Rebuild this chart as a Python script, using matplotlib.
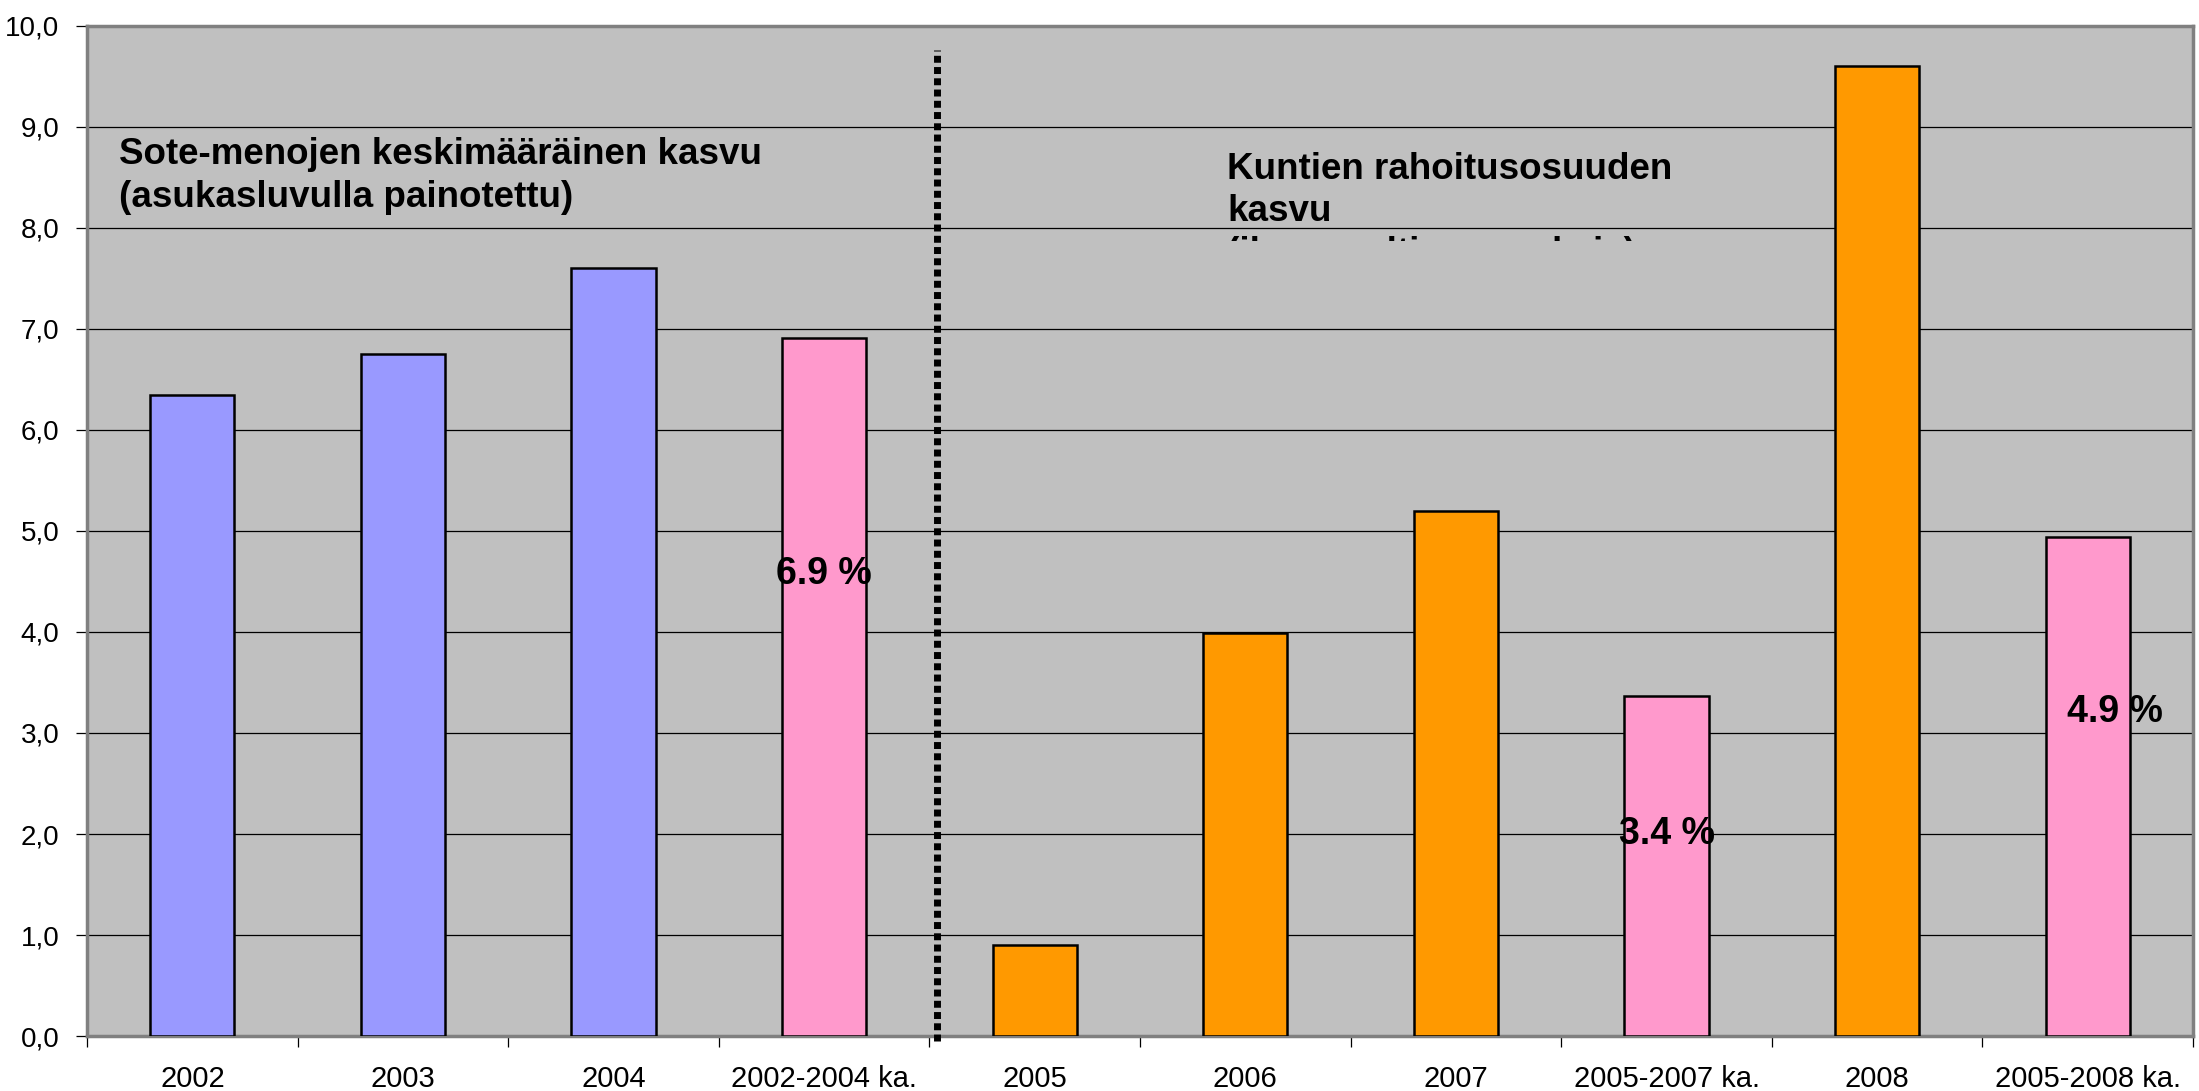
import matplotlib
matplotlib.use("Agg")
import matplotlib.pyplot as plt
from matplotlib.transforms import Bbox, TransformedBbox

plt.rcParams['font.family'] = ['Liberation Sans', 'DejaVu Sans']

categories = ['2002', '2003', '2004', '2002-2004 ka.', '2005', '2006', '2007',
              '2005-2007 ka.', '2008', '2005-2008 ka.']
values = [6.35, 6.75, 7.60, 6.91, 0.90, 3.99, 5.20, 3.37, 9.60, 4.94]
groups = ['sote', 'sote', 'sote', 'avg', 'kunta', 'kunta', 'kunta', 'avg', 'kunta', 'avg']
group_colors = {'sote': '#9999FF', 'kunta': '#FF9900', 'avg': '#FF99CC'}

# labels written inside the average bars: (x, y, text)
avg_labels = [(3.0, 4.57, '6.9 %'), (7.0, 2.0, '3.4 %'), (9.13, 3.21, '4.9 %')]
yticks = [0, 1, 2, 3, 4, 5, 6, 7, 8, 9, 10]

fig = plt.figure(figsize=(21.99, 10.91), dpi=100)
ax = fig.add_axes([0.0396, 0.0504, 0.9577, 0.9258])
ax.set_facecolor('#C0C0C0')

x = list(range(len(categories)))
ax.bar(x, values, width=0.4, color=[group_colors[g] for g in groups],
       edgecolor='black', linewidth=1.8, zorder=3)

ax.set_xlim(-0.5, len(categories) - 0.5)
ax.set_ylim(0, 10)
ax.set_yticks(yticks)
ax.set_yticklabels([('%.1f' % v).replace('.', ',') for v in yticks], fontsize=20)
ax.yaxis.grid(True, color='black', linewidth=0.9, zorder=1)
ax.set_axisbelow(True)

ax.set_xticks(x)
ax.set_xticklabels(categories, fontsize=21)
ax.set_xticks([i - 0.5 for i in range(len(categories) + 1)], minor=True)
ax.tick_params(axis='x', which='major', length=0, pad=21)
ax.tick_params(axis='x', which='minor', length=8, width=0.9, color='black')
ax.tick_params(axis='y', length=8, width=0.9, color='black', pad=12)

for s in ax.spines.values():
    s.set_color('#808080')
    s.set_linewidth(2.5)

# dotted separator between the two periods
ax.plot([3.536, 3.536], [-0.05, 9.76], color='black', linewidth=5,
        linestyle=(0, (1, 0.62)), clip_on=False, zorder=4)

for lx, ly, txt in avg_labels:
    ax.text(lx, ly, txt, ha='center', va='center', fontsize=27,
            fontweight='bold', zorder=5)

fs = 26.5
ax.text(-0.348, 8.635, 'Sote-menojen keskimääräinen kasvu', fontsize=fs,
        fontweight='bold', va='baseline', zorder=5)
ax.text(-0.348, 8.21, '(asukasluvulla painotettu)', fontsize=fs,
        fontweight='bold', va='baseline', zorder=5)

ax.text(4.913, 8.487, 'Kuntien rahoitusosuuden', fontsize=fs,
        fontweight='bold', va='baseline', zorder=5)
ax.text(4.913, 8.07, 'kasvu', fontsize=fs, fontweight='bold',
        va='baseline', zorder=5)
# third line is cut off by its text box in the original
t3 = ax.text(4.913, 7.656, '(ilman valtionosuuksia)', fontsize=fs,
             fontweight='bold', va='baseline', zorder=5)
t3.set_clip_box(TransformedBbox(Bbox([[0, 1 - 241 / 1091], [1, 1]]), fig.transFigure))
t3.set_clip_on(True)

fig.savefig('out.png', dpi=100)
